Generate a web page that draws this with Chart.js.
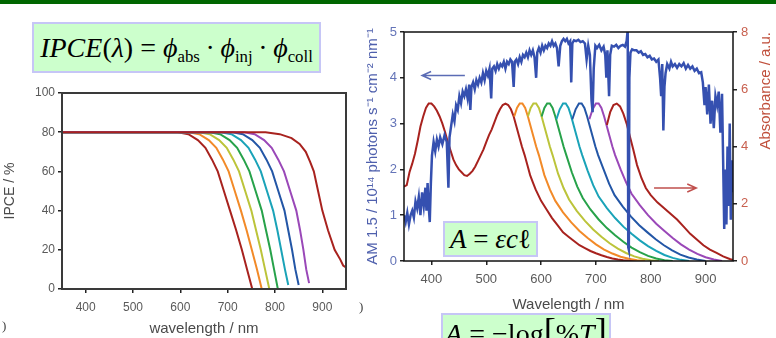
<!DOCTYPE html>
<html lang="en">
<head>
<meta charset="UTF-8">
<title>IPCE and absorbance</title>
<script src="https://cdn.jsdelivr.net/npm/chart.js"></script>
<style>
  html, body { margin: 0; padding: 0; background: #fff; }
  body { position: relative; width: 776px; height: 338px; overflow: hidden; font-family: "Liberation Sans", Arial, sans-serif; }
  .topbar { position: absolute; left: 0; top: 0; width: 776px; height: 4px; background: #006600; z-index: 3; }
  .panel { position: absolute; }
  .fbox { position: absolute; box-sizing: border-box; background: #ccffcc; border: 2px solid #c6c6f6; display: flex; align-items: center; justify-content: center; font-family: "Liberation Serif", "DejaVu Serif", serif; color: #000; white-space: nowrap; z-index: 2; }
  .fbox sub { font-size: 0.6em; vertical-align: -0.32em; line-height: 0; }
  .fbox .big { font-size: 1.3em; line-height: 0; }
  .mark { position: absolute; font: 13px "Liberation Serif", serif; color: #444; }
</style>
</head>
<body>
<div class="topbar"></div>

<div class="panel" style="left:0;top:80px"><canvas id="ipce" width="360" height="258"></canvas></div>
<div class="panel" style="left:360px;top:0"><canvas id="spec" width="416" height="338"></canvas></div>

<div class="fbox" style="left:32px;top:22px;width:289px;height:51px;font-size:28px">
  <span><i>IPCE</i>(<i>λ</i>)&nbsp;=&nbsp;<i>ϕ</i><sub>abs</sub>&thinsp;·&thinsp;<i>ϕ</i><sub>inj</sub>&thinsp;·&thinsp;<i>ϕ</i><sub>coll</sub></span>
</div>
<div class="fbox" style="left:443px;top:221px;width:95px;height:36px;font-size:27px">
  <span><i>A</i>&nbsp;=&nbsp;<i>εc</i>ℓ</span>
</div>
<div class="fbox" style="left:441px;top:313px;width:170px;height:42px;font-size:28px">
  <span><i>A</i>&nbsp;=&nbsp;−log<span class="big">[</span>%<i>T</i><span class="big">]</span></span>
</div>
<span class="mark" style="left:2px;top:318px">)</span>
<span class="mark" style="left:359px;top:299px">)</span>

<script>
// axis ticks
const wlTicks = [400, 500, 600, 700, 800, 900];
const ipceTicks = [0, 20, 40, 60, 80, 100];
const amTicks = [0, 1, 2, 3, 4, 5];
const absTicks = [0, 2, 4, 6, 8];

// left panel: IPCE (%) vs wavelength (nm)
const ipceRed1 = [[350,80],[595,80],[617,79],[637,76],[653,72],[667,66],[679,60],[692,50],[705,40],[718,30],[730,20],[741,10],[752,0]];
const ipceOrange = [[350,80],[618,80],[640,79],[660,76],[676,72],[690,66],[702,60],[715,50],[728,40],[740,30],[751,20],[762,10],[772,0]];
const ipceYellow = [[350,80],[640,80],[662,79],[682,76],[698,72],[712,66],[724,60],[737,50],[750,40],[760,30],[770,20],[779,10],[788,0]];
const ipceGreen = [[350,80],[662,80],[684,79],[704,76],[720,72],[734,66],[746,60],[759,50],[772,40],[781,30],[790,20],[798,10],[806,0],[950,0]];
const ipceTeal = [[350,80],[686,80],[708,79],[728,76],[744,72],[758,66],[770,60],[783,50],[796,40],[805,30],[813,20],[821,10],[828,2]];
const ipceBlue = [[350,80],[710,80],[732,79],[752,76],[768,72],[782,66],[794,60],[807,50],[820,40],[828,30],[836,20],[843,10],[850,2]];
const ipcePurple = [[350,80],[735,80],[757,79],[777,76],[793,72],[807,66],[819,60],[832,50],[845,40],[853,30],[860,20],[866,10],[872,3]];
const ipceRed2 = [[350,80],[780,80],[810,79],[835,77],[852,74],[865,70],[874,65],[882,60],[891,50],[900,40],[912,30],[926,20],[938,15],[944,12],[950,11]];

// right panel: AM 1.5 photon flux (left axis)
const am15 = [[350,1.0],[353,0.85],[356,1.05],[359,0.8],[362,1.0],[365,1.1],[368,0.95],[371,1.3],[374,1.15],[377,1.4],
  [380,1.0],[383,1.5],[386,1.2],[389,1.6],[391,1.1],[393,1.7],[395,1.2],[397,0.85],[399,1.7],[401,2.3],
  [404,2.6],[407,2.4],[410,2.65],[413,2.5],[416,2.7],[420,2.55],[424,2.75],[428,2.6],[431,1.6],[433,2.7],
  [436,2.95],[439,3.2],[442,3.05],[445,3.4],[448,3.3],[451,3.6],[454,3.45],[457,3.7],[460,3.6],[463,3.75],
  [466,3.55],[469,3.85],[471,3.3],[473,3.8],[476,3.9],[479,3.75],[482,3.95],[485,3.85],[488,4.0],[491,3.9],
  [494,4.1],[497,3.95],[500,4.15],[503,4.05],[506,4.2],[509,3.55],[511,4.2],[514,4.25],[517,4.15],[520,4.3],
  [523,4.2],[526,4.3],[529,4.25],[532,4.35],[535,4.2],[538,4.35],[541,4.3],[544,4.4],[547,4.35],[550,3.8],
  [552,4.35],[555,4.4],[558,4.3],[561,4.45],[564,4.35],[567,4.5],[570,4.45],[573,4.55],[576,4.45],[579,4.6],
  [582,4.5],[585,4.6],[588,4.45],[591,4.0],[593,4.55],[596,4.65],[599,4.55],[602,4.7],[605,4.6],[608,4.7],
  [611,4.65],[614,4.75],[617,4.7],[620,4.8],[623,4.7],[626,4.75],[629,4.65],[632,4.25],[635,4.7],[638,4.8],
  [641,4.85],[644,4.8],[647,4.85],[650,4.75],[653,4.8],[655,3.9],[657,4.75],[660,4.82],[664,4.8],[668,4.83],
  [672,4.78],[676,4.8],[680,4.75],[683,4.4],[686,4.7],[689,4.5],[692,3.5],[694,3.25],[696,4.2],[699,4.7],
  [702,4.65],[706,4.72],[710,4.6],[714,4.68],[717,4.5],[719,4.0],[721,4.6],[724,3.6],[726,4.5],[729,4.7],
  [733,4.68],[737,4.72],[741,4.65],[745,4.7],[749,4.72],[753,4.68],[756,4.8],[758,5.05],[759,0.3],[760,0.25],
  [761,4.0],[763,4.55],[766,4.62],[770,4.6],[774,4.6],[778,4.55],[782,4.58],[786,4.5],[790,4.52],[794,4.45],
  [798,4.48],[802,4.4],[806,4.42],[810,4.35],[814,4.4],[817,4.0],[819,3.6],[821,4.3],[823,2.85],[825,3.8],
  [827,4.1],[830,4.3],[834,4.2],[837,4.35],[840,4.25],[844,4.3],[848,4.22],[852,4.3],[856,4.25],[860,4.32],
  [864,4.2],[868,4.28],[872,4.2],[876,4.25],[880,4.15],[884,4.2],[888,4.1],[892,4.12],[895,3.9],[898,3.4],
  [900,3.8],[903,3.2],[906,3.85],[909,3.0],[912,3.5],[915,2.9],[918,3.6],[921,3.4],[924,3.7],[927,2.8],
  [930,3.65],[932,2.2],[934,0.7],[936,2.0],[938,0.8],[940,2.5],[942,1.2],[944,3.0],[946,0.9],[948,2.2],[950,1.5]];

// right panel: absorbance of the dyes (right axis)
const absRed1 = [[350,2.6],[355,2.65],[360,3.1],[365,3.4],[370,3.75],[375,4.2],[380,4.7],[385,5.05],[390,5.35],[395,5.5],
  [400,5.5],[405,5.4],[410,5.25],[415,5.05],[420,4.8],[425,4.5],[430,4.15],[435,3.85],[440,3.55],[445,3.35],
  [450,3.2],[455,3.1],[460,3.0],[465,2.97],[470,3.05],[475,3.15],[480,3.3],[485,3.5],[490,3.7],[495,3.9],
  [500,4.15],[505,4.4],[510,4.6],[515,4.85],[520,5.1],[525,5.3],[530,5.45],[535,5.5],[540,5.45],[545,5.3],
  [550,5.05],[555,4.7],[560,4.35],[565,4.0],[570,3.7],[575,3.35],[580,3.0],[585,2.75],[590,2.5],[600,2.1],
  [610,1.8],[620,1.5],[630,1.25],[640,1.0],[650,0.85],[660,0.7],[670,0.55],[680,0.45],[690,0.35],[700,0.27],
  [710,0.2],[720,0.14],[730,0.09],[740,0.05],[750,0.03],[765,0.01],[780,0]];
const absOrange = [[551,5.05],[556,5.35],[561,5.5],[566,5.5],[571,5.35],[576,5.05],[581,4.7],[586,4.35],[591,4.0],[596,3.7],
  [606,3.0],[616,2.5],[626,2.1],[640,1.7],[655,1.35],[670,1.05],[685,0.8],[700,0.58],[715,0.4],[730,0.26],
  [745,0.15],[760,0.08],[775,0.03],[790,0]];
const absYellow = [[576,5.05],[581,5.35],[586,5.5],[591,5.5],[596,5.35],[601,5.05],[606,4.7],[611,4.35],[616,4.0],[621,3.7],
  [631,3.05],[641,2.55],[651,2.15],[665,1.75],[680,1.4],[695,1.1],[710,0.85],[725,0.62],[740,0.43],[755,0.28],
  [770,0.16],[785,0.08],[800,0.03],[815,0]];
const absGreen = [[601,5.05],[606,5.35],[611,5.5],[616,5.5],[621,5.35],[626,5.05],[631,4.7],[636,4.35],[641,4.0],[646,3.7],
  [656,3.1],[666,2.6],[676,2.2],[690,1.8],[705,1.45],[720,1.15],[735,0.9],[750,0.67],[765,0.47],[780,0.31],
  [795,0.18],[810,0.09],[825,0.03],[840,0]];
const absTeal = [[628,4.95],[634,5.3],[640,5.5],[645,5.5],[650,5.35],[655,5.05],[660,4.7],[665,4.35],[670,4.0],[675,3.7],
  [685,3.15],[695,2.65],[705,2.25],[720,1.85],[735,1.5],[750,1.2],[765,0.95],[780,0.72],[795,0.52],[810,0.35],
  [825,0.21],[840,0.11],[855,0.04],[870,0]];
const absBlue = [[657,4.95],[663,5.3],[669,5.5],[674,5.5],[679,5.35],[684,5.05],[689,4.7],[694,4.35],[699,4.0],[704,3.7],
  [714,3.2],[724,2.7],[734,2.3],[749,1.9],[764,1.55],[779,1.25],[794,1.0],[809,0.76],[824,0.55],[839,0.37],
  [854,0.22],[869,0.12],[884,0.05],[900,0]];
const absPurple = [[688,4.95],[694,5.3],[700,5.5],[705,5.5],[710,5.35],[715,5.05],[720,4.7],[725,4.35],[730,4.0],[735,3.7],
  [745,3.2],[755,2.75],[765,2.35],[780,1.95],[795,1.6],[810,1.3],[825,1.05],[840,0.8],[855,0.58],[870,0.4],
  [885,0.25],[900,0.13],[915,0.05],[930,0]];
const absRed2 = [[720,4.75],[726,5.2],[732,5.45],[738,5.5],[744,5.4],[750,5.15],[756,4.8],[762,4.35],[768,3.9],[775,3.35],
  [783,2.9],[791,2.55],[800,2.3],[812,2.05],[824,1.85],[836,1.65],[848,1.45],[860,1.2],[872,0.95],[884,0.75],
  [896,0.55],[908,0.4],[920,0.28],[932,0.16],[944,0.07],[950,0.03]];

// arrows pointing at the axis each curve belongs to (data units)
const fluxArrow = { from: 461, to: 383, y: 4.05 };
const absArrow = { from: 806, to: 883, y: 2.55 };

const RED = '#a8221e', ORANGE = '#f28a28', YELLOW = '#bcc43a', GREEN = '#27a24a',
      TEAL = '#1aa3b8', BLUE = '#2356a6', PURPLE = '#9a48b8', FLUX = '#3550b0';

Chart.defaults.font.family = '"Liberation Sans", Arial, sans-serif';

const toXY = pts => pts.map(p => ({ x: p[0], y: p[1] }));
const line = (pts, color, extra) => Object.assign({
  data: toXY(pts), borderColor: color, borderWidth: 2, pointRadius: 0, tension: 0, fill: false
}, extra || {});

const frame = {
  id: 'frame',
  afterDatasetsDraw(chart, args, opts) {
    const { ctx, chartArea: a } = chart;
    ctx.save();
    ctx.strokeStyle = opts.color;
    ctx.lineWidth = opts.width;
    ctx.strokeRect(a.left, a.top, a.right - a.left, a.bottom - a.top);
    ctx.restore();
  }
};

const axisGrid = { drawOnChartArea: false, drawTicks: true, tickLength: 4, color: '#222', lineWidth: 1.5 };
const setTicks = list => s => { s.ticks = list.map(v => ({ value: v })); };

// ---- left chart
new Chart(document.getElementById('ipce'), {
  type: 'line',
  data: {
    datasets: [
      line(ipceRed2, RED), line(ipcePurple, PURPLE), line(ipceBlue, BLUE), line(ipceTeal, TEAL),
      line(ipceGreen, GREEN), line(ipceYellow, YELLOW), line(ipceOrange, ORANGE), line(ipceRed1, RED)
    ]
  },
  options: {
    responsive: false, animation: false, events: [],
    layout: { padding: { top: 13, right: 14, bottom: 0, left: 0 } },
    plugins: { legend: { display: false }, tooltip: { enabled: false }, frame: { color: '#3a3a3a', width: 2 } },
    scales: {
      x: {
        type: 'linear', min: 350, max: 950,
        afterBuildTicks: setTicks(wlTicks),
        afterFit: s => { s.height = 49; },
        ticks: { color: '#5a5a5a', font: { size: 12 }, padding: 7, maxRotation: 0 },
        grid: axisGrid, border: { display: false },
        title: { display: true, text: 'wavelength / nm', color: '#4a4a4a', font: { size: 15 }, padding: 0 }
      },
      y: {
        min: 0, max: 100,
        afterBuildTicks: setTicks(ipceTicks),
        afterFit: s => { s.width = 62; },
        ticks: { color: '#5a5a5a', font: { size: 12 }, padding: 3 },
        grid: axisGrid, border: { display: false },
        title: { display: true, text: 'IPCE / %', color: '#4a4a4a', font: { size: 14 }, padding: { top: 2, bottom: 2 } }
      }
    }
  },
  plugins: [frame]
});

// ---- right chart
const extras = {
  id: 'extras',
  afterDatasetsDraw(chart) {
    const { ctx, chartArea: a, scales } = chart;
    const arrow = (def, scale, color) => {
      const x1 = scales.x.getPixelForValue(def.from);
      const x2 = scales.x.getPixelForValue(def.to);
      const y = scale.getPixelForValue(def.y);
      const d = x2 > x1 ? -1 : 1;
      ctx.beginPath();
      ctx.moveTo(x1, y); ctx.lineTo(x2, y);
      ctx.moveTo(x2 + d * 9, y - 4); ctx.lineTo(x2, y); ctx.lineTo(x2 + d * 9, y + 4);
      ctx.strokeStyle = color; ctx.lineWidth = 1.5; ctx.stroke();
    };
    ctx.save();
    arrow(fluxArrow, scales.y, '#5b6cb5');
    arrow(absArrow, scales.y2, '#c0504d');
    // right axis title reads bottom-to-top
    ctx.translate(chart.width - 10, a.top);
    ctx.rotate(-Math.PI / 2);
    ctx.fillStyle = '#c0503c';
    ctx.font = '15px "Liberation Sans", Arial, sans-serif';
    ctx.textAlign = 'right';
    ctx.textBaseline = 'middle';
    ctx.fillText('Absorbance / a.u.', 0, 0);
    ctx.restore();
  }
};

new Chart(document.getElementById('spec'), {
  type: 'line',
  data: {
    datasets: [
      line(am15, FLUX, { yAxisID: 'y', borderWidth: 2.5 }),
      line(absRed2, RED, { yAxisID: 'y2' }), line(absPurple, PURPLE, { yAxisID: 'y2' }),
      line(absBlue, BLUE, { yAxisID: 'y2' }), line(absTeal, TEAL, { yAxisID: 'y2' }),
      line(absGreen, GREEN, { yAxisID: 'y2' }), line(absYellow, YELLOW, { yAxisID: 'y2' }),
      line(absOrange, ORANGE, { yAxisID: 'y2' }), line(absRed1, RED, { yAxisID: 'y2' })
    ]
  },
  options: {
    responsive: false, animation: false, events: [],
    layout: { padding: { top: 32, right: 0, bottom: 20, left: 0 } },
    plugins: { legend: { display: false }, tooltip: { enabled: false }, frame: { color: '#111', width: 1.5 } },
    scales: {
      x: {
        type: 'linear', min: 350, max: 950,
        afterBuildTicks: setTicks(wlTicks),
        afterFit: s => { s.height = 57; },
        ticks: { color: '#5a5a5a', font: { size: 13 }, padding: 7, maxRotation: 0 },
        grid: axisGrid, border: { display: false },
        title: { display: true, text: 'Wavelength / nm', color: '#4a4a4a', font: { size: 15 }, padding: { top: 4, bottom: 4 } }
      },
      y: {
        position: 'left', min: 0, max: 5,
        afterBuildTicks: setTicks(amTicks),
        afterFit: s => { s.width = 44; },
        ticks: { color: '#6474b8', font: { size: 13 }, padding: 3 },
        grid: axisGrid, border: { display: false },
        title: { display: true, text: 'AM 1.5 / 10¹⁴ photons s⁻¹ cm⁻² nm⁻¹', color: '#4f60ad', font: { size: 15 }, padding: { top: 4, bottom: 4 } }
      },
      y2: {
        position: 'right', min: 0, max: 8,
        afterBuildTicks: setTicks(absTicks),
        afterFit: s => { s.width = 43; },
        ticks: { color: '#c8604f', font: { size: 13 }, padding: 4 },
        grid: axisGrid, border: { display: false }
      }
    }
  },
  plugins: [frame, extras]
});
</script>
</body>
</html>
